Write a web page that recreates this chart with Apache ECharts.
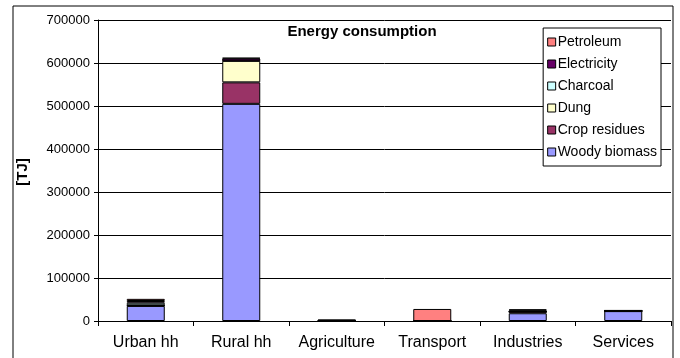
<!DOCTYPE html>
<html>
<head>
<meta charset="utf-8">
<script src="https://cdn.jsdelivr.net/npm/echarts@6/dist/echarts.min.js"></script>
<style>
  html, body { margin: 0; padding: 0; background: #fff; }
  #chart { width: 680px; height: 358px; }
</style>
</head>
<body>
<div id="chart"></div>
<script>
var categories = ['Urban hh', 'Rural hh', 'Agriculture', 'Transport', 'Industries', 'Services'];
var woody = [35000, 505000, 0, 0, 18000, 23000];
var crop = [1000, 50000, 0, 0, 4000, 0];
var dung = [500, 50000, 0, 0, 0, 0];
var charcoal = [6000, 500, 0, 0, 0, 0];
var electricity = [4000, 5000, 1500, 0, 3000, 1500];
var petroleum = [5000, 1500, 1500, 28000, 2000, 0];

var names = ['Woody biomass', 'Crop residues', 'Dung', 'Charcoal', 'Electricity', 'Petroleum'];
var colors = ['#9999FF', '#993366', '#FFFFCC', '#CCFFFF', '#660066', '#FF8080'];
var values = [woody, crop, dung, charcoal, electricity, petroleum];

var myChart = echarts.init(document.getElementById('chart'));

var series = names.map(function (n, i) {
    return {
        name: n,
        type: 'bar',
        stack: 'total',
        barWidth: 38,
        data: values[i],
        itemStyle: {
            color: colors[i],
            borderColor: '#000',
            borderWidth: 1
        }
    };
});

var option = {
    animation: false,
    textStyle: { fontFamily: 'Liberation Sans' },
    title: {
        text: 'Energy consumption',
        left: 357,
        textAlign: 'center',
        top: 19,
        textStyle: { fontSize: 15, fontWeight: 'bold', color: '#000' }
    },
    graphic: [{
        type: 'rect',
        shape: { x: 13, y: 6, width: 660, height: 360 },
        style: { fill: 'none', stroke: '#000', lineWidth: 1 },
        z: 100
    }, {
        type: 'text',
        x: 23, y: 172,
        rotation: Math.PI / 2,
        style: { text: '[TJ]', font: 'bold 15px Liberation Sans', fill: '#000', align: 'center', verticalAlign: 'middle' }
    }],
    legend: {
        orient: 'vertical',
        right: 19,
        top: 28,
        icon: 'rect',
        data: names.slice().reverse(),
        itemWidth: 8,
        itemHeight: 8,
        itemGap: 8,
        padding: [7, 4, 7, 4],
        borderColor: '#000',
        borderWidth: 1,
        backgroundColor: '#fff',
        textStyle: { fontSize: 14, color: '#000', padding: [0, 0, 0, -3] },
        itemStyle: { borderColor: '#000', borderWidth: 1 }
    },
    grid: {
        left: 98,
        right: 9,
        top: 20,
        bottom: 37
    },
    xAxis: {
        type: 'category',
        data: categories,
        axisLine: { lineStyle: { color: '#000' } },
        axisTick: { show: true, alignWithLabel: false, length: 5, lineStyle: { color: '#000' } },
        axisLabel: { color: '#000', fontSize: 16, margin: 14, interval: 0 }
    },
    yAxis: {
        type: 'value',
        min: 0,
        max: 700000,
        interval: 100000,
        axisLine: { show: true, lineStyle: { color: '#000' } },
        axisTick: { show: true, length: 4, lineStyle: { color: '#000' } },
        axisLabel: { color: '#000', fontSize: 13, margin: 8, formatter: function (v) { return String(v); } },
        splitLine: { lineStyle: { color: '#000', width: 1 } }
    },
    series: series
};
myChart.setOption(option);
</script>
</body>
</html>
